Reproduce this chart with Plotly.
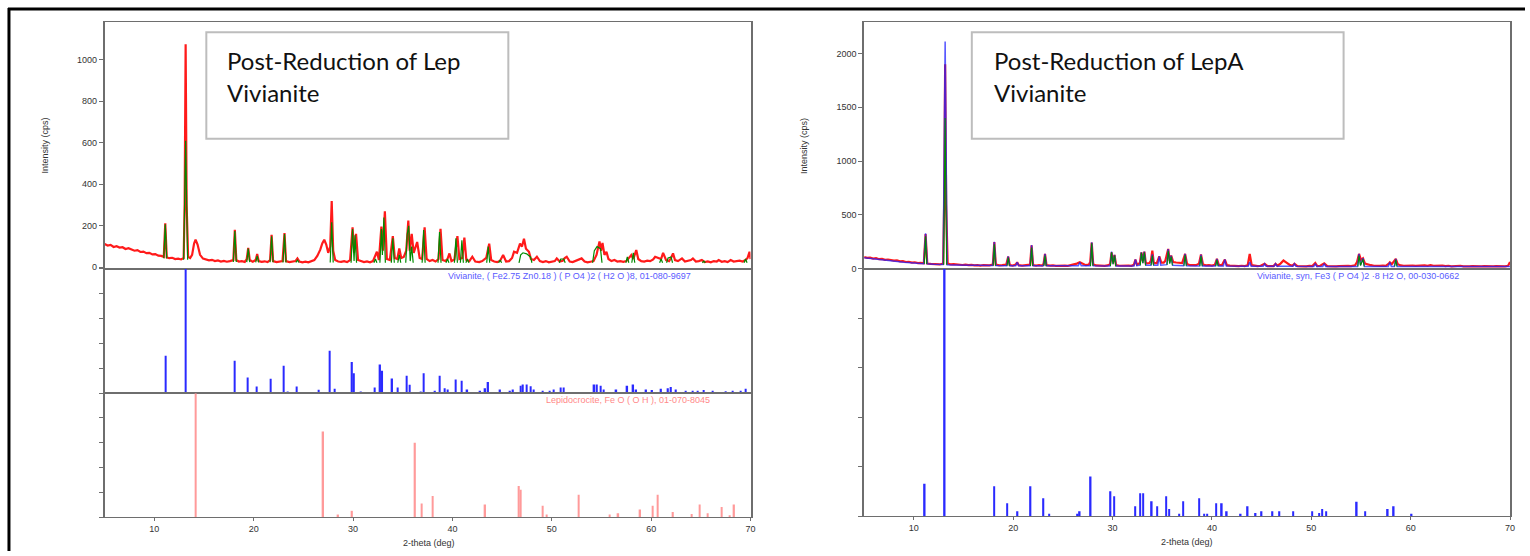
import plotly.graph_objects as go

W, H = 1530, 556

# ---------------- data (2-theta in deg, intensity in cps / relative %) ----------------
# Left panel: measured pattern (red)
left_measured = [
    (5.0, 112), (5.3, 105), (5.6, 108), (5.9, 98), (6.2, 102), (6.5, 95), (6.8, 97), (7.1, 88), (7.4, 92), (7.7, 84),
    (8.0, 80), (8.3, 83), (8.6, 74), (8.9, 76), (9.2, 68), (9.5, 70), (9.8, 62), (10.1, 64), (10.4, 56), (10.7, 55),
    (10.95, 50), (11.1, 212), (11.25, 48), (11.5, 44), (11.8, 46), (12.1, 40), (12.4, 42), (12.7, 38), (12.95, 45),
    (13.05, 300), (13.15, 1075), (13.25, 300), (13.4, 50), (13.6, 45), (13.8, 60), (14.0, 115), (14.15, 133),
    (14.35, 110), (14.6, 60), (14.9, 42), (15.2, 38), (15.5, 34), (15.8, 36), (16.1, 30), (16.4, 33), (16.7, 28),
    (17.0, 31), (17.3, 27), (17.6, 30), (17.95, 35), (18.1, 181), (18.25, 35), (18.5, 28), (18.8, 30), (19.1, 26),
    (19.3, 40), (19.45, 94), (19.6, 35), (19.9, 27), (20.2, 35), (20.35, 64), (20.5, 30), (20.8, 26), (21.1, 29),
    (21.4, 25), (21.65, 35), (21.8, 157), (21.95, 30), (22.3, 25), (22.6, 28), (22.9, 30), (23.1, 165), (23.25, 30),
    (23.6, 25), (23.9, 28), (24.2, 30), (24.4, 43), (24.6, 28), (24.9, 24), (25.2, 27), (25.5, 24), (25.8, 28),
    (26.1, 35), (26.4, 55), (26.7, 85), (26.9, 115), (27.1, 133), (27.3, 110), (27.5, 70), (27.7, 100), (27.85, 320),
    (28.0, 80), (28.2, 35), (28.5, 28), (28.8, 26), (29.1, 30), (29.4, 25), (29.7, 35), (29.95, 193), (30.1, 70),
    (30.3, 161), (30.5, 35), (30.8, 28), (31.1, 25), (31.4, 28), (31.7, 24), (32.0, 30), (32.4, 75), (32.6, 35),
    (32.85, 196), (33.0, 80), (33.2, 270), (33.4, 40), (33.7, 35), (34.0, 150), (34.2, 45), (34.45, 40), (34.65, 91),
    (34.85, 45), (35.1, 50), (35.35, 80), (35.56, 225), (35.7, 80), (35.9, 161), (36.1, 70), (36.45, 122), (36.7, 45),
    (36.95, 40), (37.2, 193), (37.4, 40), (37.7, 30), (38.0, 35), (38.3, 28), (38.6, 40), (38.8, 186), (39.0, 35),
    (39.3, 30), (39.5, 40), (39.7, 67), (39.9, 30), (40.2, 38), (40.5, 150), (40.7, 40), (41.0, 45), (41.2, 143),
    (41.4, 35), (41.7, 30), (42.0, 51), (42.3, 28), (42.7, 25), (43.0, 30), (43.4, 45), (43.7, 114), (43.9, 35),
    (44.2, 28), (44.5, 25), (44.8, 32), (45.1, 59), (45.4, 28), (45.7, 30), (46.0, 45), (46.2, 75), (46.5, 70),
    (46.8, 114), (47.0, 100), (47.2, 138), (47.4, 90), (47.7, 75), (47.9, 40), (48.2, 35), (48.5, 51), (48.8, 30),
    (49.1, 25), (49.4, 30), (49.7, 24), (50.0, 28), (50.3, 30), (50.5, 43), (50.8, 28), (51.1, 32), (51.3, 45),
    (51.5, 51), (51.8, 28), (52.1, 25), (52.4, 30), (52.7, 38), (53.0, 43), (53.3, 28), (53.6, 24), (53.9, 27),
    (54.2, 30), (54.5, 60), (54.8, 125), (54.95, 80), (55.1, 118), (55.3, 60), (55.5, 75), (55.7, 40), (56.0, 30),
    (56.3, 35), (56.6, 28), (56.9, 30), (57.2, 26), (57.5, 30), (57.8, 45), (58.0, 59), (58.2, 40), (58.5, 83),
    (58.7, 40), (59.0, 30), (59.3, 28), (59.6, 32), (59.9, 30), (60.2, 38), (60.4, 51), (60.7, 45), (61.0, 40),
    (61.2, 70), (61.5, 35), (61.8, 30), (62.0, 45), (62.2, 67), (62.4, 35), (62.7, 30), (63.1, 43), (63.4, 28),
    (63.7, 30), (64.0, 35), (64.2, 43), (64.5, 28), (64.8, 30), (65.1, 35), (65.4, 25), (65.7, 28), (66.0, 24),
    (66.3, 30), (66.6, 28), (66.8, 35), (67.1, 27), (67.4, 30), (67.7, 25), (68.0, 35), (68.3, 28), (68.6, 30),
    (68.9, 32), (69.2, 28), (69.5, 35), (69.7, 45), (69.9, 75), (70.0, 40),
]
# Left fitted pattern (green), visible segments around the peaks
left_fit = [
    [(10.95, 44), (11.1, 208), (11.25, 43)],
    [(12.95, 36), (13.15, 610), (13.35, 36)],
    [(17.95, 26), (18.1, 175), (18.25, 26)],
    [(19.3, 25), (19.45, 90), (19.6, 25)],
    [(20.2, 24), (20.35, 55), (20.5, 24)],
    [(21.65, 24), (21.8, 150), (21.95, 24)],
    [(22.95, 23), (23.1, 160), (23.25, 23)],
    [(24.25, 23), (24.4, 35), (24.55, 23)],
    [(27.7, 23), (27.85, 217), (28.0, 23)],
    [(29.8, 22), (29.95, 185), (30.1, 30), (30.2, 155), (30.35, 22)],
    [(32.1, 22), (32.25, 40), (32.4, 22)],
    [(32.7, 22), (32.85, 185), (32.95, 60), (33.1, 240), (33.25, 22)],
    [(33.85, 22), (34.0, 140), (34.15, 22)],
    [(34.5, 22), (34.65, 60), (34.8, 22)],
    [(35.3, 22), (35.45, 160), (35.6, 200), (35.75, 30), (35.9, 100), (36.05, 22)],
    [(36.95, 22), (37.1, 180), (37.25, 22)],
    [(38.55, 22), (38.7, 170), (38.85, 22)],
    [(39.35, 22), (39.5, 40), (39.65, 22)],
    [(40.2, 22), (40.35, 140), (40.5, 22)],
    [(40.8, 22), (40.95, 130), (41.1, 22)],
    [(41.35, 22), (41.5, 40), (41.65, 22)],
    [(43.45, 22), (43.6, 100), (43.75, 22)],
    [(44.65, 22), (44.8, 35), (44.95, 22)],
    [(46.7, 22), (46.87, 60), (47.1, 70), (47.47, 65), (47.85, 50), (48.0, 22)],
    [(50.75, 22), (50.9, 40), (51.2, 40), (51.35, 22)],
    [(54.1, 22), (54.28, 80), (54.55, 100), (54.9, 90), (55.05, 22)],
    [(57.45, 22), (57.6, 50), (57.75, 22)],
    [(58.05, 22), (58.2, 70), (58.35, 22)],
    [(60.85, 22), (61.0, 40), (61.15, 22)],
    [(61.55, 22), (61.7, 45), (62.0, 50), (62.15, 22)],
    [(65.15, 22), (65.3, 30), (65.45, 22)],
    [(69.35, 22), (69.5, 40), (69.65, 22)],
]
# Left reference sticks: Vivianite (Fe2.75 Zn0.18)(PO4)2(H2O)8, 01-080-9697
viv_left_2theta = [11.13, 13.14, 18.08, 19.38, 20.3, 21.68, 23.02, 23.4, 24.3, 26.56, 27.66, 28.17, 29.9, 30.1,
                   30.8, 32.2, 32.73, 32.94, 33.94, 34.5, 35.38, 35.68, 36.78, 37.08, 38.25, 38.7, 39.2, 39.5,
                   40.35, 40.95, 41.5, 42.8, 43.3, 43.6, 44.8, 45.8, 46.1, 46.87, 47.1, 47.47, 47.85, 48.2, 49.1,
                   49.8, 50.2, 50.9, 51.2, 54.28, 54.55, 54.9, 55.2, 56.5, 57.6, 58.2, 58.5, 59.5, 60.1, 61.0,
                   61.7, 62.0, 62.5, 63.5, 64.2, 64.7, 65.3, 66.2, 67.5, 68.2, 69.0, 69.5]
viv_left_rel = [30, 100, 26, 12.6, 5.4, 11.5, 22, 1, 5.4, 2.7, 34, 3.5, 25, 16,
                1, 4.5, 23, 18, 11.7, 4.5, 14, 6.7, 1, 16, 2, 14, 4, 3,
                11, 10, 3, 2, 4, 9, 3, 2, 3, 6, 7, 7, 5.5, 3, 2,
                2, 3, 4.5, 4.5, 7, 7, 6, 3, 3, 6, 7, 3, 3, 2.5, 3.5,
                4, 5, 3, 2, 2, 2, 2.5, 2, 1.5, 2, 2, 3.5]
# Lepidocrocite, FeO(OH), 01-070-8045
lep_2theta = [14.14, 27.0, 28.5, 29.9, 36.24, 36.88, 38.0, 43.3, 46.7, 46.85, 49.1, 49.5, 52.7, 55.8, 56.7,
              58.9, 60.13, 60.66, 62.2, 64.1, 64.9, 65.7, 67.1, 67.9, 68.35]
lep_rel = [100, 69, 2, 5, 60, 11, 17, 10, 25, 22, 9, 2, 18, 2, 3,
           6, 9, 18, 4, 2.5, 10, 3, 8, 1, 10]

# Right panel: measured (red), calculated (blue), fit (green)
right_measured = [
    (5.0, 105), (5.3, 98), (5.6, 100), (5.9, 92), (6.2, 95), (6.5, 86), (6.8, 88), (7.1, 80), (7.4, 83), (7.7, 75),
    (8.0, 72), (8.3, 74), (8.6, 66), (8.9, 68), (9.2, 60), (9.5, 62), (9.8, 55), (10.1, 57), (10.4, 50), (10.7, 52),
    (11.0, 48), (11.18, 320), (11.35, 45), (11.7, 42), (12.0, 40), (12.3, 42), (12.6, 37), (12.95, 45), (13.05, 600),
    (13.15, 1900), (13.25, 600), (13.4, 45), (13.7, 38), (14.0, 40), (14.3, 35), (14.6, 37), (14.9, 32), (15.2, 35),
    (15.5, 30), (15.8, 33), (16.1, 28), (16.4, 31), (16.7, 27), (17.0, 30), (17.3, 26), (17.6, 29), (17.95, 35),
    (18.1, 245), (18.25, 35), (18.6, 28), (18.9, 30), (19.3, 35), (19.5, 110), (19.65, 32), (19.95, 27), (20.25, 35),
    (20.4, 57), (20.55, 30), (20.9, 26), (21.2, 29), (21.5, 26), (21.7, 35), (21.85, 215), (22.0, 32), (22.3, 27),
    (22.6, 30), (22.9, 26), (23.05, 40), (23.2, 135), (23.35, 30), (23.7, 26), (24.0, 29), (24.3, 24), (24.6, 27),
    (24.9, 23), (25.2, 26), (25.5, 24), (25.8, 30), (26.1, 35), (26.4, 45), (26.7, 57), (27.0, 40), (27.3, 30),
    (27.6, 35), (27.75, 60), (27.9, 240), (28.05, 40), (28.3, 28), (28.6, 25), (28.9, 27), (29.2, 24), (29.5, 28),
    (29.75, 40), (29.9, 150), (30.05, 60), (30.2, 125), (30.35, 30), (30.7, 25), (31.0, 27), (31.3, 23), (31.6, 26),
    (31.9, 24), (32.15, 35), (32.3, 83), (32.45, 35), (32.75, 50), (32.9, 150), (33.05, 70), (33.2, 156), (33.35, 45),
    (33.7, 50), (33.85, 70), (34.0, 166), (34.15, 50), (34.45, 50), (34.7, 113), (34.9, 55), (35.15, 55), (35.3, 70),
    (35.6, 181), (35.75, 70), (35.9, 120), (36.1, 60), (36.4, 55), (36.7, 55), (37.0, 50), (37.3, 135), (37.5, 40),
    (37.8, 30), (38.1, 27), (38.4, 30), (38.7, 45), (38.9, 129), (39.1, 35), (39.4, 28), (39.7, 30), (40.0, 26),
    (40.3, 35), (40.5, 89), (40.7, 32), (41.0, 30), (41.3, 83), (41.5, 30), (41.8, 26), (42.1, 23), (42.4, 26),
    (42.7, 22), (43.0, 25), (43.3, 22), (43.6, 30), (43.8, 135), (44.0, 30), (44.3, 24), (44.6, 22), (44.9, 25),
    (45.3, 43), (45.6, 22), (45.9, 25), (46.2, 22), (46.4, 43), (46.6, 25), (46.9, 45), (47.2, 74), (47.5, 55),
    (47.8, 35), (48.1, 25), (48.3, 43), (48.6, 22), (48.9, 20), (49.2, 23), (49.5, 20), (49.8, 24), (50.1, 22),
    (50.4, 50), (50.6, 22), (50.9, 25), (51.3, 48), (51.6, 22), (51.9, 20), (52.2, 23), (52.5, 20), (52.8, 22),
    (53.1, 24), (53.4, 20), (53.7, 23), (54.0, 22), (54.4, 30), (54.6, 60), (54.8, 135), (55.0, 80), (55.2, 95),
    (55.4, 45), (55.7, 35), (56.0, 30), (56.3, 25), (56.6, 28), (56.9, 24), (57.2, 26), (57.5, 23), (57.8, 45),
    (57.9, 57), (58.1, 40), (58.3, 60), (58.5, 89), (58.7, 40), (59.0, 28), (59.3, 25), (59.6, 28), (59.9, 24),
    (60.2, 27), (60.5, 23), (60.8, 26), (61.1, 22), (61.4, 28), (61.7, 24), (62.0, 30), (62.3, 25), (62.6, 28),
    (62.9, 24), (63.2, 27), (63.5, 22), (63.8, 25), (64.1, 20), (64.4, 24), (64.7, 21), (65.0, 25), (65.3, 20),
    (65.6, 23), (65.9, 20), (66.2, 22), (66.5, 19), (66.8, 23), (67.1, 20), (67.4, 22), (67.7, 19), (68.0, 21),
    (68.3, 20), (68.6, 22), (68.9, 19), (69.2, 21), (69.5, 20), (69.8, 25), (69.9, 45), (70.0, 60),
]
right_calc = [
    (5.0, 100), (6.0, 88), (7.0, 78), (8.0, 68), (9.0, 58), (10.0, 50), (11.0, 44), (11.18, 328), (11.35, 43),
    (12.0, 38), (12.95, 36), (13.15, 2112), (13.35, 35), (14.0, 33), (15.0, 30), (16.0, 28), (17.95, 27), (18.1, 249),
    (18.25, 27), (19.35, 26), (19.5, 113), (19.65, 26), (20.25, 26), (20.4, 57), (20.55, 26), (21.7, 25), (21.85, 218),
    (22.0, 25), (23.05, 25), (23.2, 135), (23.35, 25), (26.55, 25), (26.7, 57), (26.85, 25), (27.75, 24), (27.9, 243),
    (28.05, 24), (29.75, 23), (29.9, 156), (30.05, 40), (30.2, 126), (30.35, 23), (32.15, 23), (32.3, 83), (32.45, 25),
    (32.75, 30), (32.9, 150), (33.05, 50), (33.2, 156), (33.35, 30), (33.85, 30), (34.0, 130), (34.15, 30), (34.55, 30),
    (34.7, 113), (34.85, 30), (35.45, 35), (35.6, 181), (35.75, 50), (35.9, 120), (36.05, 30), (37.15, 25), (37.3, 135),
    (37.45, 25), (38.75, 22), (38.9, 129), (39.05, 22), (40.35, 22), (40.5, 89), (40.65, 22), (41.15, 22), (41.3, 83),
    (41.45, 22), (43.65, 20), (43.8, 60), (43.95, 20), (45.15, 20), (45.3, 43), (45.45, 20), (46.25, 20), (46.4, 43),
    (46.55, 20), (48.15, 20), (48.3, 43), (48.45, 20), (50.25, 19), (50.4, 45), (50.55, 19), (51.15, 19), (51.3, 45),
    (51.45, 19), (54.65, 19), (54.8, 135), (54.95, 30), (55.2, 95), (55.35, 19), (57.75, 19), (57.9, 57), (58.05, 19),
    (58.35, 19), (58.5, 89), (58.65, 19), (60.0, 19), (70.0, 19),
]
right_fit = [
    [(11.05, 43), (11.18, 300), (11.3, 42)],
    [(13.0, 35), (13.15, 1400), (13.3, 34)],
    [(17.98, 26), (18.1, 225), (18.22, 26)],
    [(19.38, 25), (19.5, 100), (19.62, 25)],
    [(21.73, 24), (21.85, 195), (21.97, 24)],
    [(23.08, 24), (23.2, 120), (23.32, 24)],
    [(27.78, 23), (27.9, 235), (28.02, 23)],
    [(29.78, 22), (29.9, 150), (30.05, 40), (30.2, 120), (30.32, 22)],
    [(32.78, 28), (32.9, 145), (33.05, 50), (33.2, 150), (33.32, 28)],
    [(33.88, 28), (34.0, 120), (34.12, 28)],
    [(35.48, 33), (35.6, 165), (35.75, 45), (35.9, 110), (36.02, 28)],
    [(37.18, 24), (37.3, 125), (37.42, 24)],
    [(38.78, 21), (38.9, 115), (39.02, 21)],
    [(40.38, 21), (40.5, 80), (40.62, 21)],
    [(54.68, 18), (54.8, 120), (54.95, 28), (55.2, 85), (55.32, 18)],
    [(58.38, 18), (58.5, 80), (58.62, 18)],
]
# Right reference sticks: Vivianite, syn, Fe3(PO4)2·8H2O, 00-030-0662
viv_right_2theta = [11.1, 13.11, 18.1, 19.4, 20.44, 21.75, 23.05, 23.6, 26.5, 26.7, 27.8, 29.8, 30.15, 32.3,
                    32.75, 33.1, 33.95, 34.5, 35.4, 35.7, 36.7, 37.1, 38.7, 39.2, 39.5, 40.4, 41.0, 41.5,
                    42.9, 43.6, 44.4, 45.0, 46.1, 46.8, 48.2, 50.1, 50.8, 51.1, 51.5, 54.58, 55.4, 57.7,
                    58.3, 60.1]
viv_right_rel = [13.2, 100, 12.1, 5.3, 2, 12.1, 7.3, 1, 1, 2, 16.1, 10.1, 8.1, 4.1,
                 9.3, 9.3, 6.1, 4.1, 8.1, 3, 1, 6.1, 7.3, 1, 1, 5.3, 5.3, 2,
                 1, 4.1, 1.3, 2, 2, 2, 2, 2, 1.3, 3, 2, 5.9, 2, 3,
                 4.1, 1]

x_ticks = [10, 20, 30, 40, 50, 60, 70]
left_y_ticks = [0, 200, 400, 600, 800, 1000]
right_y_ticks = [0, 500, 1000, 1500, 2000]
ref_ticks = [0, 20, 40, 60, 80, 100]

# ---------------- helpers ----------------
def px(x):
    return x / W


def py(y):
    return 1 - y / H


FONT = "Liberation Sans, Arial, sans-serif"
AXC = "#6e6e6e"

fig = go.Figure()


def line_trace(pts, color, width, xa, ya, opacity=1.0):
    fig.add_trace(go.Scatter(
        x=[p[0] for p in pts], y=[p[1] for p in pts], mode="lines",
        line=dict(color=color, width=width), opacity=opacity,
        xaxis=xa, yaxis=ya, hoverinfo="skip", showlegend=False))


def segments_trace(segs, color, width, xa, ya):
    xs, ys = [], []
    for seg in segs:
        xs += [p[0] for p in seg] + [None]
        ys += [p[1] for p in seg] + [None]
    fig.add_trace(go.Scatter(
        x=xs, y=ys, mode="lines", line=dict(color=color, width=width), connectgaps=False,
        xaxis=xa, yaxis=ya, hoverinfo="skip", showlegend=False))


def stick_trace(xs, ys, color, xa, ya):
    fig.add_trace(go.Bar(
        x=xs, y=ys, width=0.15, marker=dict(color=color, line=dict(width=0)),
        xaxis=xa, yaxis=ya, hoverinfo="skip", showlegend=False))


line_trace(left_measured, "#ff1a1a", 2.2, "x", "y")
segments_trace(left_fit, "#008a00", 1.2, "x", "y")
stick_trace(viv_left_2theta, viv_left_rel, "#2a2aff", "x2", "y2")
stick_trace(lep_2theta, lep_rel, "#ff9a9a", "x3", "y3")

line_trace(right_measured, "#ff1a1a", 2.2, "x4", "y4")
line_trace(right_calc, "#2020ff", 1.5, "x4", "y4", 0.75)
segments_trace(right_fit, "#008a00", 1.1, "x4", "y4")
stick_trace(viv_right_2theta, viv_right_rel, "#2a2aff", "x5", "y5")

tickfont = dict(family=FONT, size=9, color="#333333")


def xax(domain, anchor, labels):
    d = dict(domain=domain, anchor=anchor, range=[5, 70], showgrid=False, zeroline=False,
             showline=True, linecolor=AXC, linewidth=1, mirror=True,
             tickmode="array", tickvals=x_ticks, tickfont=tickfont,
             fixedrange=True)
    if labels:
        d.update(ticks="outside", ticklen=3, tickcolor=AXC, showticklabels=True)
    else:
        d.update(ticks="", showticklabels=False)
    return d


def yax(domain, anchor, rng, tickvals, labels):
    return dict(domain=domain, anchor=anchor, range=rng, showgrid=False, zeroline=False,
                showline=True, linecolor=AXC, linewidth=1.5, mirror=True,
                tickmode="array", tickvals=tickvals, ticks="outside", ticklen=4, tickcolor=AXC,
                showticklabels=labels, tickfont=tickfont, fixedrange=True)


LX = [px(105), px(753)]
RX = [px(867), px(1515)]

fig.update_layout(
    width=W, height=H, margin=dict(l=0, r=0, t=0, b=0),
    paper_bgcolor="white", plot_bgcolor="white", showlegend=False, barmode="overlay",
    xaxis=xax(LX, "y", False),
    yaxis=yax([py(271), py(22.7)], "x", [-6, 1180], left_y_ticks, True),
    xaxis2=xax(LX, "y2", False),
    yaxis2=yax([py(396.7), py(271)], "x2", [0, 100], ref_ticks, False),
    xaxis3=xax(LX, "y3", True),
    yaxis3=yax([py(521.7), py(396.7)], "x3", [0, 100], ref_ticks, False),
    xaxis4=xax(RX, "y4", False),
    yaxis4=yax([py(271.3), py(22.7)], "x4", [-4, 2290], right_y_ticks, True),
    xaxis5=xax(RX, "y5", True),
    yaxis5=yax([py(521), py(271.3)], "x5", [0, 100], ref_ticks, False),
)

small = dict(family=FONT, size=9, color="#333333")


def note(text, x, y, font, angle=0, xanchor="center"):
    return dict(text=text, x=px(x), y=py(y), xref="paper", yref="paper", textangle=angle,
                xanchor=xanchor, yanchor="middle", showarrow=False, font=font)


ann = [
    note("Intensity (cps)", 45, 147, small, -90),
    note("Intensity (cps)", 806, 147, small, -90),
    note("2-theta (deg)", 430, 548, small),
    note("2-theta (deg)", 1191, 547, small),
    note("Vivianite, ( Fe2.75 Zn0.18 ) ( P O4 )2 ( H2 O )8, 01-080-9697", 447, 279,
         dict(family=FONT, size=9, color="#5a5aff"), xanchor="left"),
    note("Lepidocrocite, Fe O ( O H ), 01-070-8045", 546, 404,
         dict(family=FONT, size=9, color="#ff8888"), xanchor="left"),
    note("Vivianite, syn, Fe3 ( P O4 )2 ·8 H2 O, 00-030-0662", 1259, 279,
         dict(family=FONT, size=9, color="#5a5aff"), xanchor="left"),
]
big = dict(family="Lato, Open Sans, sans-serif", size=24, color="#111111")
for x0, line1 in [(226, "Post-Reduction of Lep"), (995, "Post-Reduction of LepA")]:
    ann.append(note(line1, x0, 61, big, xanchor="left"))
    ann.append(note("Vivianite", x0, 93, big, xanchor="left"))
fig.update_layout(annotations=ann)

shapes = []
for x0, x1 in [(207, 510), (975, 1348)]:
    shapes.append(dict(type="rect", xref="paper", yref="paper", x0=px(x0), x1=px(x1),
                       y0=py(140), y1=py(32.5), line=dict(color="#bdbdbd", width=2),
                       fillcolor="rgba(0,0,0,0)", layer="above"))
# outer black frame (top and left)
shapes.append(dict(type="line", xref="paper", yref="paper", x0=px(8), x1=1, y0=py(9), y1=py(9),
                   line=dict(color="black", width=3)))
shapes.append(dict(type="line", xref="paper", yref="paper", x0=px(9), x1=px(9), y0=0, y1=py(8),
                   line=dict(color="black", width=3)))
fig.update_layout(shapes=shapes)

fig.write_html("out.html", config={"displayModeBar": False},
               post_script="document.body.style.margin='0';document.body.style.overflow='hidden';")
